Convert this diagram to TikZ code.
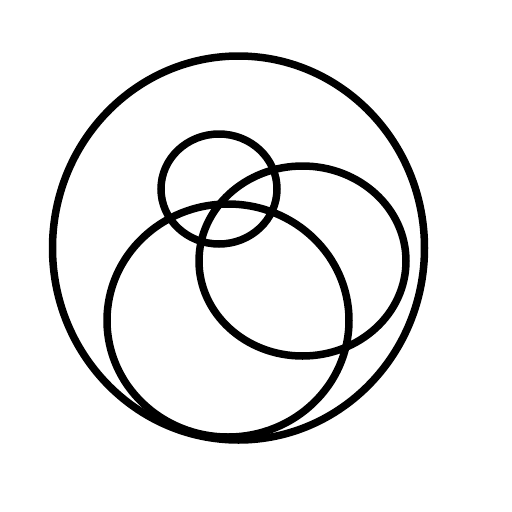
\documentclass[tikz,border=0pt]{standalone}
\begin{document}
\begin{tikzpicture}[x=1pt,y=-1pt,ring/.style={draw=black,line width=7.5pt}]
\useasboundingbox (0,0) rectangle (512,512);
\fill[white] (0,0) rectangle (512,512);
\draw[ring] (238.5,248) ellipse [x radius=186, y radius=192];
\draw[ring] (219,189) ellipse [x radius=58, y radius=55];
\draw[ring] (302.5,261) ellipse [x radius=103.5, y radius=95];
\draw[ring] (228,320.5) ellipse [x radius=121, y radius=116.5];
\end{tikzpicture}
\end{document}
